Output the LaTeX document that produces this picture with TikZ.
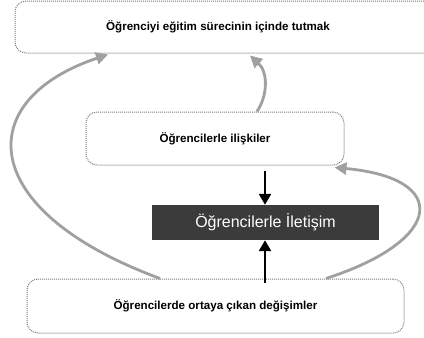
\documentclass[tikz,border=0pt]{standalone}
\usepackage{fontspec}
\setmainfont{Liberation Sans}
\usetikzlibrary{arrows.meta}
\definecolor{boxline}{HTML}{7A7A7A}
\definecolor{loopgray}{HTML}{A0A0A0}
\definecolor{darkfill}{HTML}{3B3B3B}
\tikzset{
  softbox/.style={draw=boxline, densely dotted, line width=1pt, rounded corners=11pt,
    fill=white, inner sep=0pt, font=\bfseries\fontsize{11.6}{14}\selectfont},
  darkbox/.style={fill=darkfill, draw=none, inner sep=0pt, text=white,
    font=\fontsize{16}{19}\selectfont},
  looparrow/.style={draw=loopgray, line width=2.8pt,
    -{Triangle[length=12pt,width=12pt]}},
  flowarrow/.style={draw=black, line width=2.4pt,
    -{Triangle[length=11pt,width=12pt]}}
}
\begin{document}
\begin{tikzpicture}[x=1pt,y=-1pt]
\useasboundingbox (0,0) rectangle (424,338);
\fill[white] (0,0) rectangle (424,338);

% boxes
\node[softbox, minimum width=426pt, minimum height=52pt] (goal) at (228,27) {};
\node[font=\bfseries\fontsize{11.6}{14}\selectfont] (goaltext) at (218,27) {Öğrenciyi eğitim sürecinin içinde tutmak};
\node[softbox, minimum width=258pt, minimum height=53pt] (rel) at (215,138.5) {Öğrencilerle ilişkiler};
\node[darkbox, minimum width=227pt, minimum height=35pt] (comm) at (265.5,222.5) {Öğrencilerle İletişim};
\node[softbox, minimum width=377pt, minimum height=54pt] (chg) at (215.5,306) {Öğrencilerde ortaya çıkan değişimler};

% feedback loops
\draw[looparrow] ([xshift=-55.5pt]chg.north) .. controls (-25,210) and (-28,100) .. ([xshift=-120pt,yshift=-1pt]goal.south);
\draw[looparrow] ([xshift=42pt]rel.north) .. controls (268,95) and (268,72) .. ([xshift=22pt,yshift=-2pt]goal.south);
\draw[looparrow] ([xshift=110.5pt]chg.north) .. controls (445,240) and (450,178) .. ([xshift=-10pt,yshift=-2pt]rel.south east);

% direct flow into communication
\draw[flowarrow] ([xshift=50pt,yshift=-5pt]rel.south) -- ([xshift=-0.5pt]comm.north);
\draw[flowarrow] ([xshift=49.5pt,yshift=-4pt]chg.north) -- ([xshift=-0.5pt]comm.south);
\end{tikzpicture}
\end{document}
